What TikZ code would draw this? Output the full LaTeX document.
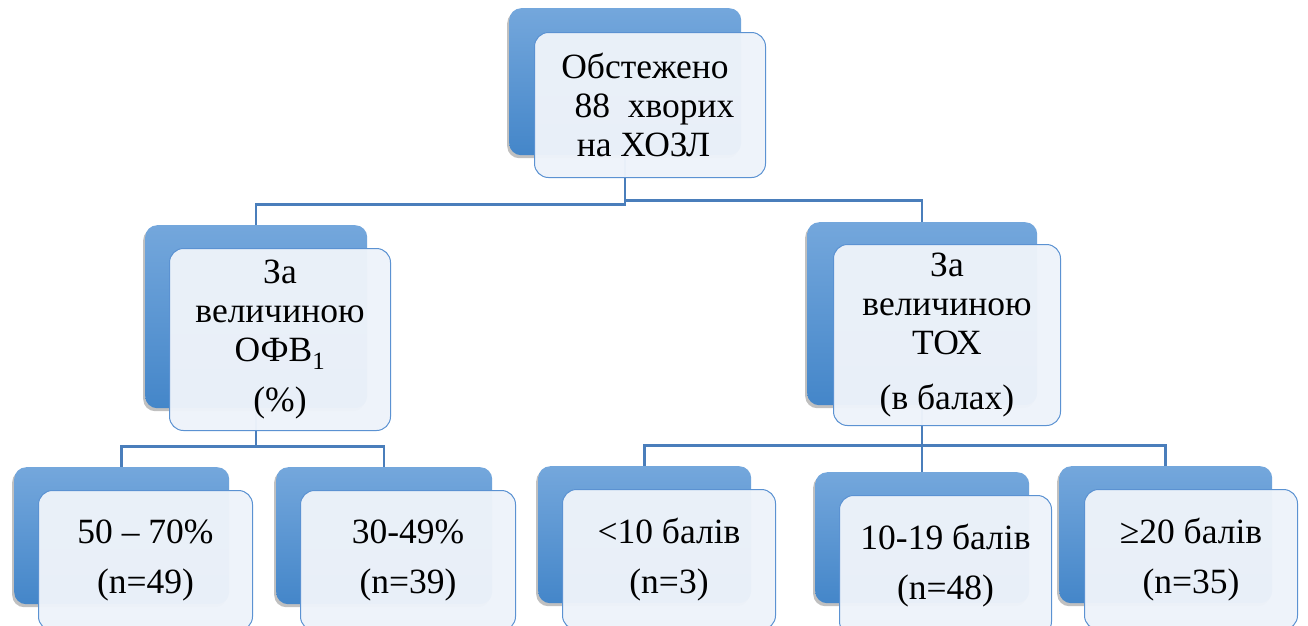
\documentclass[tikz,border=0pt]{standalone}
\usepackage{fontspec}
\setmainfont{Liberation Serif}
\usetikzlibrary{shadows}
\definecolor{bTop}{HTML}{74A7DC}
\definecolor{bBot}{HTML}{4486C9}
\definecolor{fFill}{HTML}{EEF3FA}
\definecolor{fBorder}{HTML}{5B92D2}
\definecolor{lineC}{HTML}{4A7EBB}
\pgfdeclarelayer{bg}
\pgfsetlayers{bg,main}
\tikzset{
  backbox/.style={rounded corners=12pt, top color=bTop, bottom color=bBot, draw=none,
    inner sep=0pt, anchor=north west,
    drop shadow={shadow xshift=-2pt, shadow yshift=-3pt, opacity=0.35, fill=black!70}},
  frontbox/.style={rounded corners=14pt, fill=fFill, fill opacity=0.97, text opacity=1,
    draw=fBorder, line width=1pt, inner sep=0pt, anchor=north west, align=center,
    font=\fontsize{35.5}{39}\selectfont},
  link/.style={draw=lineC, line width=2.5pt}
}
\begin{document}
\begin{tikzpicture}[x=1pt,y=-1pt]
\clip (0,0) rectangle (1308,625);
% top
\node[backbox, minimum width=232pt, minimum height=147pt] (tb) at (509,8) {};
\node[frontbox, minimum width=231pt, minimum height=145pt] (tf) at (534,32) {Обстежено\hspace*{10pt}\\\ 88\ \ хворих\\на ХОЗЛ\hspace*{13pt}};
% middle
\node[backbox, minimum width=222pt, minimum height=183pt] (lb) at (145,225) {};
\node[frontbox, minimum width=221pt, minimum height=182pt] (lf) at (169,248) {За\\величиною\\ОФВ\textsubscript{1}\\[11pt](\%)};
\node[backbox, minimum width=230pt, minimum height=183pt] (rb) at (807,222) {};
\node[frontbox, minimum width=227pt, minimum height=181pt] (rf) at (833,244) {За\\величиною\\ТОХ\\[16pt](в балах)};
% bottom
\node[backbox, minimum width=215pt, minimum height=137pt] (b1) at (14,467) {};
\node[frontbox, minimum width=214pt, minimum height=140pt] (f1) at (38,490) {50 – 70\%\\[11pt](n=49)};
\node[backbox, minimum width=216pt, minimum height=137pt] (b2) at (276,467) {};
\node[frontbox, minimum width=215pt, minimum height=140pt] (f2) at (300,490) {30-49\%\\[11pt](n=39)};
\node[backbox, minimum width=213pt, minimum height=137pt] (b3) at (538,466) {};
\node[frontbox, minimum width=213pt, minimum height=140pt] (f3) at (562,489) {<10 балів\\[11pt](n=3)};
\node[backbox, minimum width=214pt, minimum height=131pt] (b4) at (815,472) {};
\node[frontbox, minimum width=212pt, minimum height=140pt] (f4) at (839,495) {10-19 балів\\[11pt](n=48)};
\node[backbox, minimum width=213pt, minimum height=137pt] (b5) at (1059,466) {};
\node[frontbox, minimum width=213pt, minimum height=140pt] (f5) at (1084,489) {≥20 балів\\[11pt](n=35)};
% connectors
\begin{pgfonlayer}{bg}
\fill[white] (0,0) rectangle (1308,625);
\draw[link] (tb.south) -- ++(0,49) -| (lb.north);
\draw[link] (tb.south) -- ++(0,45) -| (rb.north);
\draw[link] (lb.south) -- ++(0,38) -| (b1.north);
\draw[link] (lb.south) -- ++(0,38) -| (b2.north);
\draw[link] (rb.south) -- ++(0,40) -| (b3.north);
\draw[link] (rb.south) -- ++(0,40) -| (b5.north);
\draw[link] (rb.south) -- (b4.north);
\end{pgfonlayer}
\end{tikzpicture}
\end{document}
